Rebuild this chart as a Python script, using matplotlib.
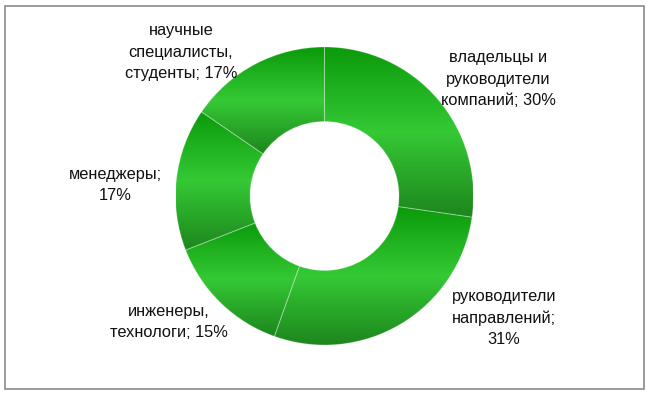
import numpy as np
import matplotlib
matplotlib.use("Agg")
import matplotlib.pyplot as plt
from matplotlib.colors import LinearSegmentedColormap
from matplotlib.patches import Rectangle

labels = ["владельцы и\nруководители\nкомпаний; 30%",
          "руководители\nнаправлений;\n31%",
          "инженеры,\nтехнологи; 15%",
          "менеджеры;\n17%",
          "научные\nспециалисты,\nстуденты; 17%"]
values = [30, 31, 15, 17, 17]
label_pos = [(498, 79), (504, 318), (169, 322), (115, 185), (181, 52)]  # pixel coords (y from top)

W, H = 650, 394
fig = plt.figure(figsize=(W / 100, H / 100), dpi=100)
ax = fig.add_axes([0, 0, 1, 1])

cx, cy, R = 324.5, H - 196, 149
wedges, _ = ax.pie(values, center=(cx, cy), radius=R, startangle=90,
                   counterclock=False,
                   wedgeprops=dict(width=R * 0.5, edgecolor=(1, 1, 1, 0.22),
                                   linewidth=0.8, facecolor="none"))
ax.set_xlim(0, W)
ax.set_ylim(0, H)
ax.set_aspect("equal")
ax.axis("off")

cmap = LinearSegmentedColormap.from_list(
    "g", [(0.0, "#0a9a0a"), (0.5, "#35c935"), (1.0, "#1d861d")])
grad = np.linspace(0, 1, 256).reshape(-1, 1)
for w in wedges:
    ext = w.get_path().get_extents()
    im = ax.imshow(grad, cmap=cmap, aspect="auto", origin="upper",
                   extent=(ext.x0, ext.x1, ext.y0, ext.y1),
                   interpolation="bilinear", zorder=0.5)
    im.set_clip_path(w)
    w.set_zorder(1)
ax.set_xlim(0, W)
ax.set_ylim(0, H)

for lab, (x, y) in zip(labels, label_pos):
    ax.text(x, H - y, lab, ha="center", va="center", fontsize=11.8,
            family=["Liberation Sans", "DejaVu Sans"], color="#111111",
            linespacing=1.53)

fig.patches.append(Rectangle((5, 5), 639, 383, transform=None, fill=False,
                             edgecolor="#8a8a8a", linewidth=1.2))
fig.savefig("out.png", dpi=100)
